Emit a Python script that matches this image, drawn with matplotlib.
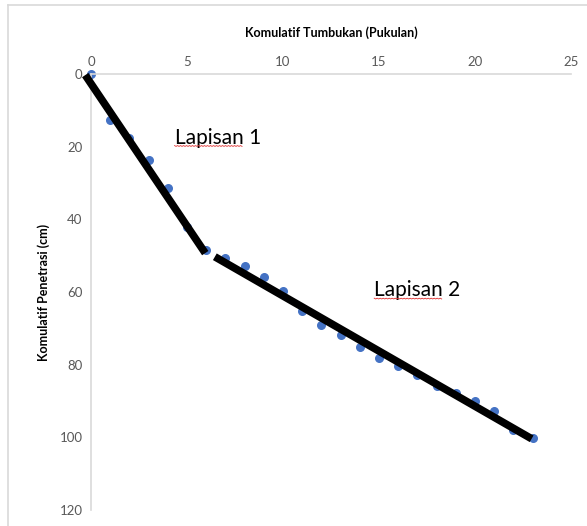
import matplotlib
matplotlib.use("Agg")
import numpy as np
import matplotlib.pyplot as plt
from matplotlib.lines import Line2D

# blows vs penetration
pukulan = [0, 1, 2, 3, 4, 5, 6, 7, 8, 9, 10, 11, 12, 13, 14, 15, 16, 17, 18, 19, 20, 21, 22, 23]
penetrasi = [0, 12.7, 17.6, 23.7, 31.4, 42.0, 48.5, 50.7, 52.9, 55.8, 59.8, 65.3, 69.0, 71.9,
             75.1, 78.1, 80.4, 82.9, 86.0, 87.7, 90.1, 92.8, 97.9, 100.2]

# hand-drawn layer trend lines
lapisan1_x = [-0.3, 5.95]
lapisan1_y = [0.3, 49.3]
lapisan2_x = [6.45, 22.95]
lapisan2_y = [50.3, 100.4]

labels = ["Lapisan 1", "Lapisan 2"]
label_pos = [(4.35, 17.5), (14.75, 59.5)]

plt.rcParams['font.family'] = ['Lato', 'DejaVu Sans']

fig = plt.figure(figsize=(5.87, 5.26), dpi=100)
ax = fig.add_axes([91/587, 1 - 510/526, 480/587, 436/526])

ax.scatter(pukulan, penetrasi, s=30, color='#4472C4', zorder=2, clip_on=False)
ax.plot(lapisan1_x, lapisan1_y, color='black', lw=5.5, solid_capstyle='butt', zorder=3, clip_on=False)
ax.plot(lapisan2_x, lapisan2_y, color='black', lw=5.5, solid_capstyle='butt', zorder=3, clip_on=False)

texts = []
for txt, (tx, ty) in zip(labels, label_pos):
    t = ax.text(tx, ty, txt, fontsize=15, color='black', va='center', ha='left')
    texts.append(t)

ax.set_xlim(0, 25)
ax.set_ylim(120, 0)
ax.set_xticks([0, 5, 10, 15, 20, 25])
ax.set_yticks([0, 20, 40, 60, 80, 100, 120])
ax.xaxis.tick_top()
ax.xaxis.set_label_position('top')
ax.tick_params(length=0, labelsize=9.5, labelcolor='#595959', pad=6)
ax.tick_params(axis='x', pad=4)

for s in ['right', 'bottom']:
    ax.spines[s].set_visible(False)
for s in ['top', 'left']:
    ax.spines[s].set_color('#D9D9D9')
    ax.spines[s].set_linewidth(1.2)

ax.set_xlabel('Komulatif Tumbukan (Pukulan)', fontsize=9, fontweight='bold', color='black', labelpad=14)
ax.set_ylabel('Komulatif Penetrasi (cm)', fontsize=9, fontweight='bold', color='black', labelpad=7)

# chart border (top and left visible)
fig.add_artist(Line2D([8/587, 1], [1 - 5/526, 1 - 5/526], color='#D9D9D9', lw=1.2, transform=fig.transFigure))
fig.add_artist(Line2D([8/587, 8/587], [0, 1 - 5/526], color='#D9D9D9', lw=1.2, transform=fig.transFigure))

# red spell-check squiggle under the word "Lapisan"
fig.canvas.draw()
renderer = fig.canvas.get_renderer()
for t in texts:
    bb = t.get_window_extent(renderer)
    word = ax.text(0, 0, "Lapisan", fontsize=15, transform=None)
    w = word.get_window_extent(renderer).width
    word.remove()
    xs = np.arange(bb.x0, bb.x0 + w, 1.5)
    ys = bb.y0 + 2 - 0.8 * (np.arange(len(xs)) % 2)
    fig.add_artist(Line2D(xs, ys, color='#E03030', lw=0.6, transform=None))

fig.savefig('out.png', dpi=100)
